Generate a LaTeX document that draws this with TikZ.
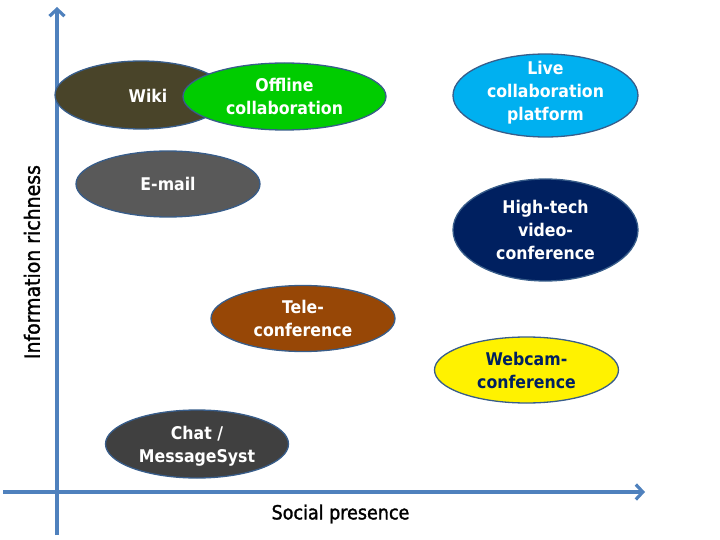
\documentclass[tikz,border=0pt]{standalone}
\usepackage{fontspec}
\setmainfont{DejaVu Sans Condensed}
\newfontfamily\axislabelfont[FakeBold=1.5]{DejaVu Sans Condensed}
\usetikzlibrary{shapes.geometric,arrows.meta}
\definecolor{axisblue}{RGB}{79,129,189}
\definecolor{rim}{RGB}{56,93,138}
\definecolor{wikic}{RGB}{73,68,41}
\definecolor{offc}{RGB}{0,204,0}
\definecolor{livec}{RGB}{0,176,240}
\definecolor{navyc}{RGB}{0,32,96}
\definecolor{mailc}{RGB}{89,89,89}
\definecolor{telec}{RGB}{151,71,6}
\definecolor{chatc}{RGB}{64,64,64}
\tikzset{
  medium/.style={ellipse, draw=rim, line width=1.3pt, inner sep=0pt,
    font=\fontsize{17.5}{23}\selectfont\bfseries, text=white, align=center},
  mtext/.style={font=\fontsize{17.5}{23}\selectfont\bfseries, text=white, align=center},
  axisline/.style={draw=axisblue, line width=3.2pt, -{Straight Barb[length=7pt,width=15pt,line width=3.2pt]}},
  axislabel/.style={text=black}
}
\begin{document}
\begin{tikzpicture}[x=1pt,y=-1pt]
\useasboundingbox (0,0) rectangle (720,540);
\coordinate (ybot) at (57,535);
\coordinate (ytop) at (57,7);
\coordinate (xl) at (3,492);
\coordinate (xr) at (645,492);
\draw[axisline] (ybot) -- (ytop);
\draw[axisline] (xl) -- (xr);
\node[axislabel, rotate=90, font=\axislabelfont\fontsize{21}{24}\selectfont] (ylab) at (32,262) {Information richness};
\node[axislabel, font=\axislabelfont\fontsize{19.5}{22}\selectfont] (xlab) at (340.5,514) {Social presence};

\node[medium, fill=wikic, minimum width=172pt, minimum height=68pt] (wiki) at (141,95) {};
\node[mtext] (wikit) at (148,96) {Wiki};
\node[medium, fill=offc, minimum width=203pt, minimum height=67pt] (off) at (284.5,96.5) {Offline\\collaboration};
\node[medium, fill=livec, minimum width=185pt, minimum height=83pt] (live) at (545.5,95.5) {};
\node[mtext] (livet) at (545.5,92.5) {Live\\collaboration\\platform};
\node[medium, fill=navyc, minimum width=185pt, minimum height=102pt] (hitech) at (545.5,230) {High-tech\\video-\\conference};
\node[medium, fill=mailc, minimum width=184pt, minimum height=66pt] (mail) at (168,184) {E-mail};
\node[medium, fill=telec, minimum width=184pt, minimum height=66pt] (tele) at (303,318.5) {Tele-\\conference};
\node[medium, fill=yellow, text=navyc, minimum width=184pt, minimum height=66pt] (web) at (526.5,370) {Webcam-\\conference};
\node[medium, fill=chatc, minimum width=183pt, minimum height=68pt] (chat) at (197,444) {};
\node[mtext] (chatt) at (197,446) {Chat /\\MessageSyst};
\end{tikzpicture}
\end{document}
